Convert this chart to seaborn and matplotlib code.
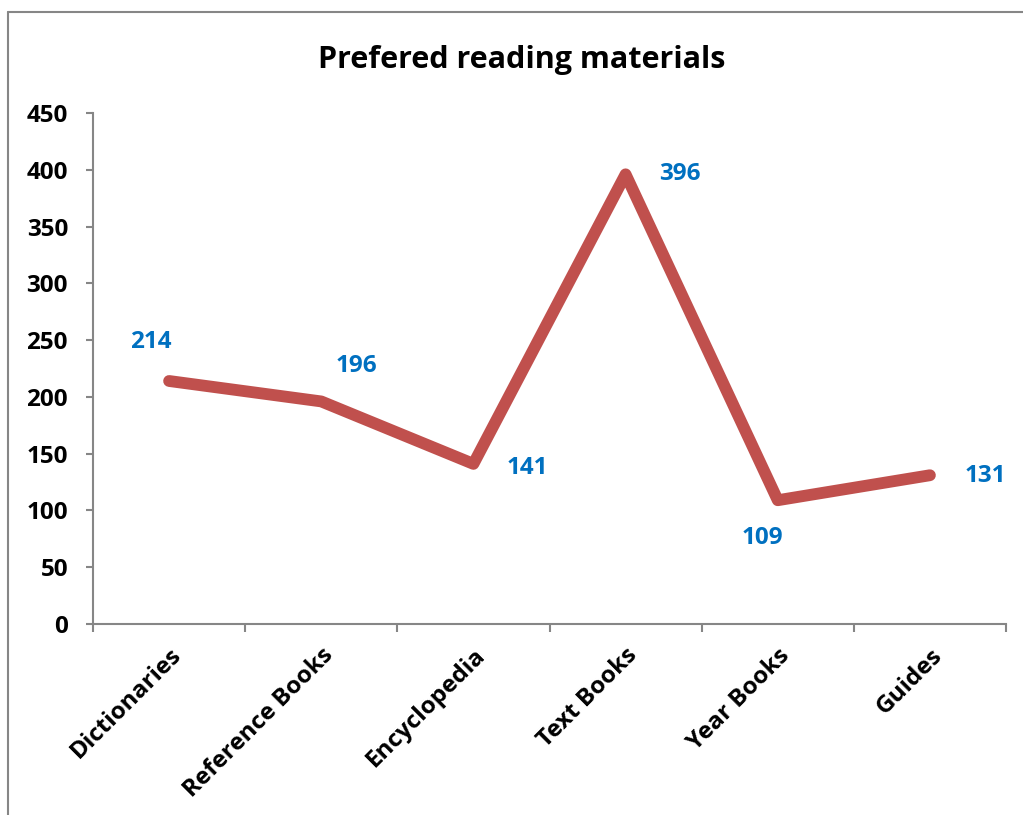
import matplotlib

matplotlib.use("Agg")
import matplotlib.pyplot as plt
import pandas as pd
import seaborn as sns
from matplotlib.lines import Line2D
from matplotlib.ticker import FixedLocator

sns.set_theme(style="white")
plt.rcParams["font.family"] = ["Open Sans", "DejaVu Sans"]
plt.rcParams["text.color"] = "black"
plt.rcParams["xtick.color"] = "black"
plt.rcParams["ytick.color"] = "black"

RED, BLUE, GREY = "#c0504d", "#0070c0", "#868686"

categories = ["Dictionaries", "Reference Books", "Encyclopedia",
              "Text Books", "Year Books", "Guides"]
counts = [214, 196, 141, 396, 109, 131]
# label offsets (pixels) from each point, as placed in the original
label_offsets = [(-18, 39), (35, 35), (54, -4), (54, 0), (-15, -38), (55, -1)]

df = pd.DataFrame({"material": categories, "count": counts})

fig = plt.figure(figsize=(10.23, 8.15), dpi=100)
ax = fig.add_axes([93 / 1023, 1 - 624 / 815, (1006 - 93) / 1023, (624 - 113) / 815])

sns.lineplot(data=df, x="material", y="count", sort=False, color=RED,
             linewidth=8.5, solid_capstyle="round", solid_joinstyle="round", ax=ax)

for i, (v, (dx, dy)) in enumerate(zip(counts, label_offsets)):
    ax.annotate(str(v), (i, v), xytext=(dx, dy), textcoords="offset pixels",
                ha="center", va="center", color=BLUE, fontsize=17.5, fontweight="bold")

ax.set_xlim(-0.5, len(categories) - 0.5)
ax.set_ylim(0, 450)
ax.set_yticks(range(0, 451, 50))
ax.set_xlabel("")
ax.set_ylabel("")
fig.text(522 / 1023, 1 - 60 / 815, "Prefered reading materials", ha="center",
         va="center", fontsize=22, fontweight="bold")

for side in ["top", "right"]:
    ax.spines[side].set_visible(False)
for side in ["left", "bottom"]:
    ax.spines[side].set_color(GREY)
    ax.spines[side].set_linewidth(1.5)

ax.set_xticks(range(len(categories)))
ax.set_xticklabels(categories, rotation=45, ha="right", rotation_mode="anchor",
                   fontsize=17.5, fontweight="bold")
ax.xaxis.set_minor_locator(FixedLocator([i - 0.5 for i in range(len(categories) + 1)]))
ax.tick_params(axis="x", which="major", length=0, pad=14)
ax.tick_params(axis="x", which="minor", bottom=True, length=6, width=1.5, color=GREY)
ax.tick_params(axis="y", left=True, length=5, width=1.5, color=GREY, pad=13)
for lab in ax.get_yticklabels():
    lab.set_fontsize(17.5)
    lab.set_fontweight("bold")

# chart-area border (cropped on right and bottom in the original)
fig.add_artist(Line2D([8 / 1023, 8 / 1023], [0, 1 - 12 / 815], color=GREY, lw=1.5))
fig.add_artist(Line2D([8 / 1023, 1], [1 - 12 / 815, 1 - 12 / 815], color=GREY, lw=1.5))

fig.savefig("out.png", dpi=100)
